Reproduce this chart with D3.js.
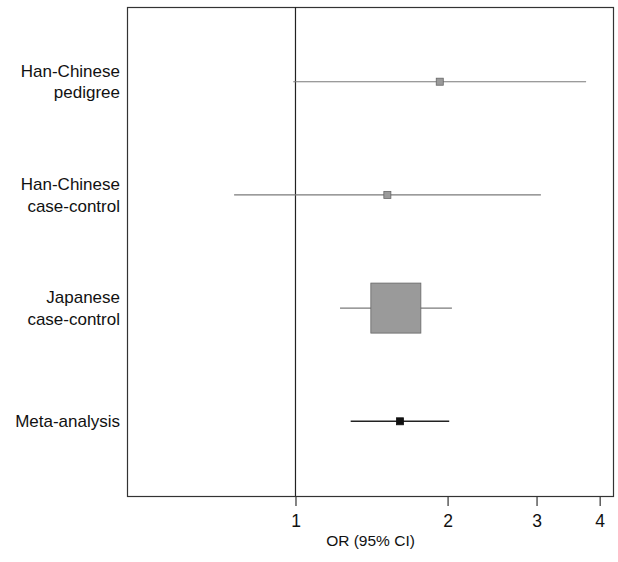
<!DOCTYPE html>
<html lang="en">
<head>
    <meta charset="UTF-8">
    <script src="https://d3js.org/d3.v7.min.js"></script>
    <title>Forest plot</title>
    <style>
        body { margin: 0; background: #fff; }
        text { font-family: "Liberation Sans", Arial, sans-serif; fill: #111; }
    </style>
</head>
<body>
<script>
    // studies, top to bottom
    var studies = [["Han-Chinese", "pedigree"], ["Han-Chinese", "case-control"], ["Japanese", "case-control"], ["Meta-analysis"]];
    var or = [1.93, 1.52, 1.58, 1.61];
    var lower = [0.99, 0.756, 1.225, 1.286];
    var upper = [3.76, 3.06, 2.04, 2.015];
    var weight = [1.9, 1.9, 96.2, null];   // % weight, meta row drawn as a small black box
    var tickValues = [1, 2, 3, 4];

    var width = 618, height = 562;
    var plotLeft = 127, plotRight = 614, plotTop = 7, plotBottom = 496;

    var svg = d3.select("body").append("svg")
        .attr("width", width)
        .attr("height", height);

    var x = d3.scaleLog()
        .domain([0.464, 4.27])
        .range([plotLeft, plotRight]);

    var y = d3.scalePoint()
        .domain(d3.range(studies.length))
        .range([plotTop, plotBottom])
        .padding(0.66);

    var size = d3.scaleSqrt().domain([0, 100]).range([0, 51]);

    // frame
    svg.append("rect")
        .attr("x", plotLeft + 0.5).attr("y", plotTop + 0.5)
        .attr("width", plotRight - plotLeft - 1).attr("height", plotBottom - plotTop)
        .attr("fill", "none")
        .attr("stroke", "#333")
        .attr("stroke-width", 1.2);

    // null line at OR = 1
    svg.append("line")
        .attr("x1", x(1)).attr("x2", x(1))
        .attr("y1", plotTop).attr("y2", plotBottom)
        .attr("stroke", "#222")
        .attr("stroke-width", 1.2);

    var rows = svg.selectAll(".row")
        .data(d3.range(studies.length))
        .enter().append("g");

    rows.append("line")
        .attr("x1", function (i) { return x(lower[i]); })
        .attr("x2", function (i) { return x(upper[i]); })
        .attr("y1", function (i) { return y(i); })
        .attr("y2", function (i) { return y(i); })
        .attr("stroke", function (i) { return weight[i] == null ? "#222" : "#7a7a7a"; })
        .attr("stroke-width", function (i) { return weight[i] == null ? 1.4 : 1.1; });

    function boxSize(i) { return weight[i] == null ? 7 : size(weight[i]); }

    rows.append("rect")
        .attr("x", function (i) { return x(or[i]) - boxSize(i) / 2; })
        .attr("y", function (i) { return y(i) - boxSize(i) / 2; })
        .attr("width", boxSize)
        .attr("height", boxSize)
        .attr("fill", function (i) { return weight[i] == null ? "#111" : "#9a9a9a"; })
        .attr("stroke", function (i) { return weight[i] == null ? "#111" : "#666"; })
        .attr("stroke-width", 0.8);

    // row labels
    rows.append("text")
        .attr("text-anchor", "end")
        .attr("font-size", "17px")
        .each(function (i) {
            var lines = studies[i];
            var t = d3.select(this);
            lines.forEach(function (l, k) {
                t.append("tspan")
                    .attr("x", 120)
                    .attr("y", y(i) + (k - (lines.length - 1) / 2) * 21.5)
                    .attr("dy", "0.35em")
                    .text(l);
            });
        });

    // x axis
    var xAxis = d3.axisBottom(x)
        .tickValues(tickValues)
        .tickFormat(d3.format("d"))
        .tickSize(10)
        .tickPadding(9);

    var ax = svg.append("g")
        .attr("transform", "translate(0," + plotBottom + ")")
        .call(xAxis);
    ax.select(".domain").remove();
    ax.selectAll("line").attr("stroke", "#333").attr("stroke-width", 1.2);
    ax.selectAll("text")
        .attr("font-size", "17.5px")
        .attr("font-family", "Liberation Sans, Arial, sans-serif")
        .attr("fill", "#111");

    svg.append("text")
        .attr("x", (plotLeft + plotRight) / 2)
        .attr("y", 546)
        .attr("text-anchor", "middle")
        .attr("font-size", "15.5px")
        .text("OR (95% CI)");
</script>
</body>
</html>
